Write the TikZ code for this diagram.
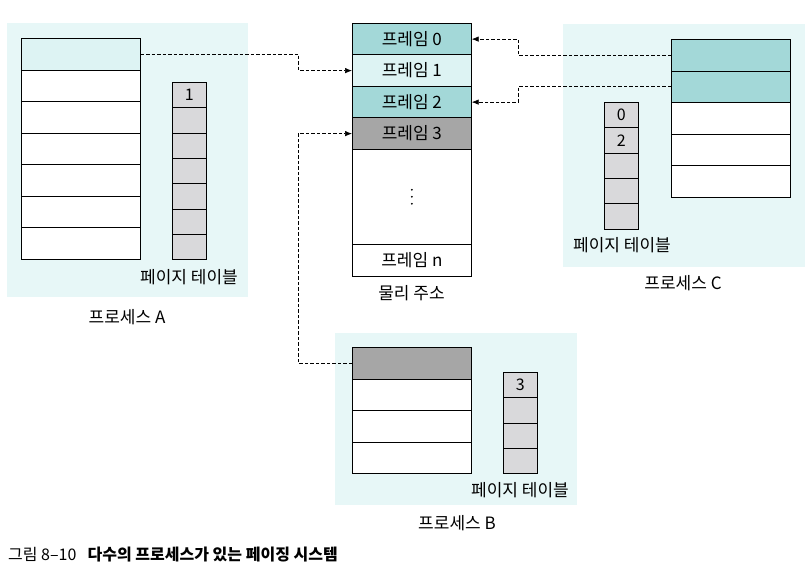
\documentclass[tikz,border=0pt]{standalone}
\usepackage{fontspec}
\setmainfont{Noto Sans CJK KR}
\usetikzlibrary{arrows.meta,positioning}

\definecolor{procbg}{HTML}{E7F7F7}
\definecolor{frameteal}{HTML}{A3D8D8}
\definecolor{framelight}{HTML}{DDF3F3}
\definecolor{framegray}{HTML}{A6A6A6}
\definecolor{ptgray}{HTML}{D9D9DB}

\tikzset{
  procarea/.style={fill=procbg, draw=none},
  page/.style={draw, line width=0.7pt, minimum width=119pt, minimum height=31.6pt,
    inner sep=0pt, anchor=north west, font=\fontsize{17}{19}\selectfont},
  frame/.style={page, minimum height=31.5pt},
  ptcell/.style={draw, line width=0.7pt, fill=ptgray, minimum width=34pt, minimum height=25.3pt,
    inner sep=0pt, anchor=north west, font=\fontsize{16}{18}\selectfont},
  lbl/.style={inner sep=1pt, font=\fontsize{17}{19}\selectfont},
  link/.style={line width=0.7pt, dash pattern=on 3.5pt off 2pt, -{Latex[length=7pt,width=5.5pt]}},
}

\begin{document}
\begin{tikzpicture}[x=1pt,y=-1pt]

    \useasboundingbox (0,0) rectangle (810,580);

    % Process areas
    \fill[procarea] (7,23)    rectangle (248,297);
    \fill[procarea] (563,24)  rectangle (805,267);
    \fill[procarea] (335,333) rectangle (577,505);

    % Frames
    \node[frame, fill=frameteal]  (F0)    at (352,23)    {프레임 0} ; %
    \node[frame, fill=framelight] (F1)    at (352,54.5)  {프레임 1} ; %
    \node[frame, fill=frameteal]  (F2)    at (352,86)    {프레임 2} ; %
    \node[frame, fill=framegray]  (F3)    at (352,117.5) {프레임 3} ; %
    \node[frame, fill=white, minimum height=95pt] (Fdots) at (352,149) {} ; %
    \node[frame, fill=white]      (Fn)    at (352,244)   {프레임 n} ; %
    \node[lbl]                    (mem)   at (411.5,293) {물리 주소} ; %

    \foreach \d in {-7,0,7}
      \fill ([yshift=\d pt]Fdots.center) circle (1pt) ; %

    % Process A
    \node[page, fill=framelight] (A0) at (21,38) {} ; %
    \foreach \i in {1,...,6}
      \node[page, fill=white] (A\i) at (21,{38+31.57*\i}) {} ; %
    \node[ptcell] (PA0) at (172,82) {1} ; %
    \foreach \i in {1,...,6}
      \node[ptcell] (PA\i) at (172,{82+25.3*\i}) {} ; %
    \node[lbl] (PA-caption) at (189,277) {페이지 테이블} ; %
    \node[lbl] (A-caption)  at (127,317) {프로세스 A} ; %

    % Process C
    \node[page, fill=frameteal] (C0) at (671,39)   {} ; %
    \node[page, fill=frameteal] (C1) at (671,70.6) {} ; %
    \foreach \i in {2,...,4}
      \node[page, fill=white] (C\i) at (671,{39+31.6*\i}) {} ; %
    \node[ptcell] (PC0) at (604,102)   {0} ; %
    \node[ptcell] (PC1) at (604,127.3) {2} ; %
    \foreach \i in {2,...,4}
      \node[ptcell] (PC\i) at (604,{102+25.3*\i}) {} ; %
    \node[lbl] (PC-caption) at (622,245) {페이지 테이블} ; %
    \node[lbl] (C-caption)  at (683,283) {프로세스 C} ; %

    % Process B
    \node[page, fill=framegray] (B0) at (352,347) {} ; %
    \foreach \i in {1,...,3}
      \node[page, fill=white] (B\i) at (352,{347+31.5*\i}) {} ; %
    \node[ptcell] (PB0) at (503,372) {3} ; %
    \foreach \i in {1,...,3}
      \node[ptcell] (PB\i) at (503,{372+25.3*\i}) {} ; %
    \node[lbl] (PB-caption) at (520,490) {페이지 테이블} ; %
    \node[lbl] (B-caption)  at (457,523) {프로세스 B} ; %

    % Edges
    \draw[link] (A0.east) -- ++(158,0)  |- (F1.west) ; %
    \draw[link] (B0.west) -- ++(-54,0)  |- (F3.west) ; %
    \draw[link] (C0.west) -- ++(-153,0) |- (F0.east) ; %
    \draw[link] (C1.west) -- ++(-153,0) |- (F2.east) ; %

    % Figure caption
    \node[anchor=west, inner sep=0pt, font=\fontsize{16}{18}\selectfont] (fig-caption) at (8,555)
      {그림 8–10\hspace{0.7em}\textbf{다수의 프로세스가 있는 페이징 시스템}} ; %

\end{tikzpicture}
\end{document}
